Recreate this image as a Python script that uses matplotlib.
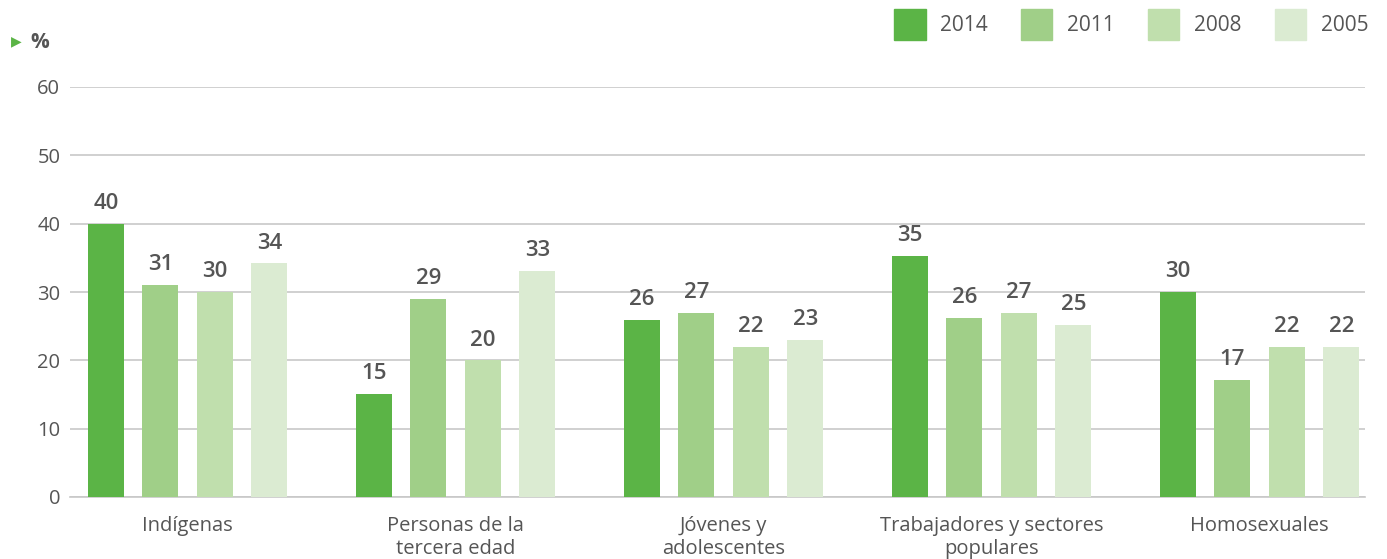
import matplotlib
matplotlib.use("Agg")
import matplotlib.pyplot as plt
from matplotlib.patches import Patch
import numpy as np

categories = ["Indígenas", "Personas de la\ntercera edad", "Jóvenes y\nadolescentes",
              "Trabajadores y sectores\npopulares", "Homosexuales"]
series_names = ["2014", "2011", "2008", "2005"]
v2014 = [40.0, 15.1, 25.9, 35.3, 30.0]
v2011 = [31.0, 29.0, 26.9, 26.2, 17.1]
v2008 = [30.0, 20.0, 22.0, 26.9, 22.0]
v2005 = [34.2, 33.1, 23.0, 25.2, 22.0]
labels2014 = ["40", "15", "26", "35", "30"]
labels2011 = ["31", "29", "27", "26", "17"]
labels2008 = ["30", "20", "22", "27", "22"]
labels2005 = ["34", "33", "23", "25", "22"]
yticks = [0, 10, 20, 30, 40, 50, 60]

colors = ["#5BB446", "#A0CF88", "#C0DFAD", "#DBEBD2"]
txt = "#555555"
plt.rcParams["font.family"] = ["Open Sans", "DejaVu Sans"]

fig = plt.figure(figsize=(13.87, 5.59), dpi=100)
ax = fig.add_axes([70/1387, 62/559, (1365-70)/1387, 410/559])

x = np.arange(len(categories))
step = 0.2034
width = 0.134
all_vals = [v2014, v2011, v2008, v2005]
all_labels = [labels2014, labels2011, labels2008, labels2005]
for i, (vals, labs) in enumerate(zip(all_vals, all_labels)):
    pos = x + (i - 1.5) * step
    bars = ax.bar(pos, vals, width=width, color=colors[i], zorder=3)
    for b, lab in zip(bars, labs):
        ax.annotate(lab, (b.get_x() + b.get_width()/2, b.get_height()),
                    xytext=(0, 7), textcoords="offset points", ha="center", va="bottom",
                    fontsize=16, fontweight="semibold", color=txt)

ax.set_xlim(-0.439, 4.393)
ax.set_ylim(0, 60)
ax.set_yticks(yticks)
ax.set_yticklabels([str(t) for t in yticks], fontsize=14.5, color=txt)
ax.yaxis.grid(True, color="#c8c8c8", linewidth=1.2, zorder=0)
ax.tick_params(axis="y", length=0, pad=7)
ax.tick_params(axis="x", length=0, pad=14)
ax.set_xticks(x)
ax.set_xticklabels(categories, fontsize=14.5, color=txt, linespacing=1.2, va="top")
for s in ["top", "right", "left"]:
    ax.spines[s].set_visible(False)
ax.spines["bottom"].set_color("#c8c8c8")
ax.spines["bottom"].set_linewidth(1.2)

handles = [Patch(color=c) for c in colors]
fig.legend(handles, series_names, loc="upper right", bbox_to_anchor=(1387/1387, 1 + 10/559),
           ncol=4, frameon=False, labelcolor=txt,
           handlelength=1.5, handleheight=1.95, handletextpad=0.7, columnspacing=1.6,
           prop={"size": 15})

fig.text(11/1387, 1 - 41/559, "\u25B6", color="#5BB446", fontsize=10, va="center", ha="left",
         family=["DejaVu Sans"])
fig.text(30/1387, 1 - 42/559, "%", color=txt, fontsize=15, fontweight="bold", va="center", ha="left")

fig.savefig("out.png", dpi=100)
